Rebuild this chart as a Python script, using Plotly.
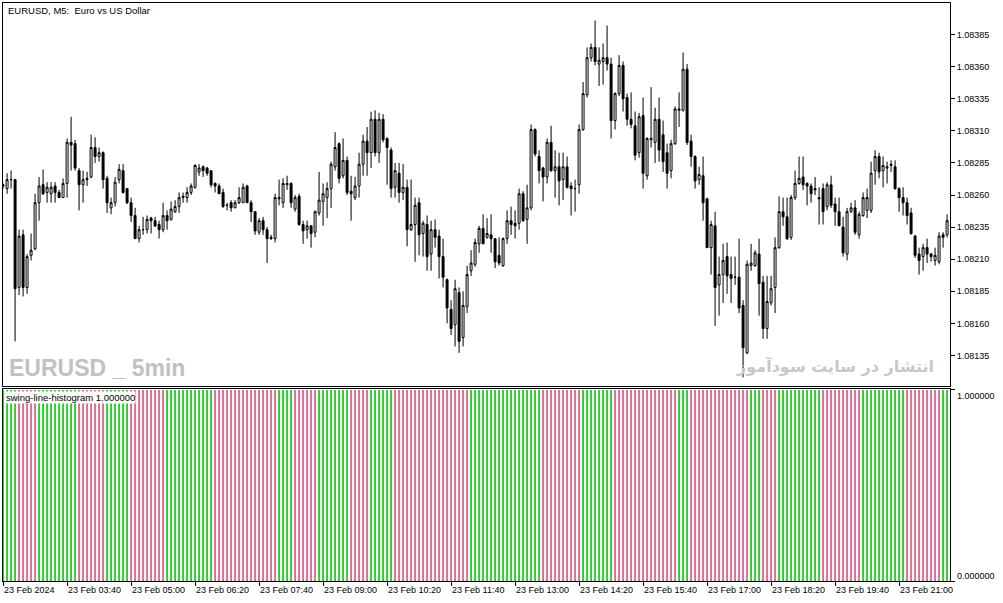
import plotly.graph_objects as go

# EURUSD M5, 23 Feb 2024, first bar 02:20. Prices are in points above 1.08000
opens = [
    267, 265, 272, 272, 188, 229, 188, 213, 218, 254,
    268, 262, 261, 267, 262, 258, 269, 301, 300, 279,
    268, 272, 274, 297, 290, 293, 273, 250, 254, 272,
    279, 265, 254, 244, 226, 233, 233, 242, 240, 237,
    233, 244, 241, 247, 251, 258, 258, 262, 266, 278,
    282, 281, 279, 269, 267, 262, 252, 254, 250, 254,
    254, 267, 254, 247, 231, 240, 233, 226, 226, 257,
    254, 268, 269, 249, 259, 237, 233, 236, 231, 246,
    255, 258, 265, 282, 300, 275, 287, 263, 258, 267,
    284, 302, 293, 319, 293, 319, 304, 295, 266, 277,
    262, 266, 233, 237, 254, 230, 237, 214, 233, 228,
    212, 194, 171, 159, 184, 149, 173, 201, 206, 222,
    234, 227, 229, 226, 213, 205, 226, 240, 238, 238,
    261, 241, 250, 311, 290, 281, 274, 301, 279, 282,
    272, 282, 267, 265, 268, 311, 338, 367, 375, 362,
    364, 367, 362, 318, 339, 361, 336, 319, 314, 293,
    322, 275, 303, 301, 319, 307, 293, 279, 300, 326,
    326, 358, 302, 290, 272, 275, 257, 219, 236, 190,
    198, 212, 198, 196, 196, 174, 137, 205, 205, 214,
    192, 156, 176, 188, 219, 247, 243, 227, 258, 269,
    274, 269, 267, 265, 258, 265, 251, 268, 253, 247,
    235, 214, 247, 250, 229, 244, 248, 248, 279, 290,
    279, 281, 283, 282, 265, 258, 254, 246, 228, 214,
    212, 219, 214, 209, 208, 229, 229,
]
highs = [
    269, 277, 279, 272, 233, 233, 214, 230, 261, 274,
    280, 270, 270, 270, 264, 273, 304, 321, 303, 281,
    279, 278, 307, 305, 297, 294, 275, 258, 274, 284,
    284, 265, 258, 250, 236, 243, 244, 243, 243, 240,
    254, 248, 255, 256, 262, 262, 266, 269, 284, 284,
    283, 282, 279, 270, 269, 265, 254, 256, 256, 266,
    269, 268, 256, 247, 242, 243, 235, 229, 261, 272,
    273, 275, 270, 260, 261, 240, 240, 236, 248, 278,
    269, 270, 286, 309, 301, 304, 290, 275, 274, 293,
    307, 313, 325, 326, 324, 323, 305, 297, 285, 285,
    284, 272, 272, 258, 258, 240, 244, 240, 241, 233,
    226, 195, 178, 194, 188, 185, 205, 217, 226, 236,
    245, 242, 245, 226, 227, 227, 248, 251, 248, 265,
    263, 268, 315, 312, 295, 282, 304, 314, 295, 293,
    293, 290, 270, 272, 315, 348, 375, 378, 396, 375,
    378, 392, 367, 340, 369, 364, 339, 340, 325, 324,
    336, 305, 344, 328, 336, 318, 300, 303, 329, 340,
    371, 362, 307, 291, 282, 290, 258, 240, 247, 212,
    222, 223, 212, 212, 226, 178, 209, 222, 217, 226,
    197, 197, 197, 227, 259, 258, 258, 260, 279, 290,
    290, 270, 269, 274, 266, 269, 270, 275, 258, 258,
    243, 250, 254, 256, 247, 262, 265, 286, 295, 293,
    290, 286, 287, 287, 266, 266, 258, 250, 229, 219,
    222, 226, 215, 219, 231, 231, 245,
]
lows = [
    265, 261, 265, 146, 182, 181, 183, 209, 217, 240,
    260, 254, 254, 254, 258, 258, 258, 279, 279, 248,
    254, 267, 273, 285, 286, 265, 246, 245, 251, 269,
    261, 253, 239, 226, 223, 229, 230, 230, 235, 226,
    231, 233, 240, 246, 246, 254, 254, 260, 265, 275,
    274, 275, 266, 262, 261, 250, 248, 247, 250, 253,
    254, 254, 239, 229, 229, 229, 207, 225, 223, 252,
    250, 264, 250, 247, 236, 222, 226, 219, 227, 244,
    236, 242, 250, 279, 269, 273, 260, 240, 256, 258,
    275, 275, 281, 290, 285, 301, 268, 258, 258, 254,
    256, 220, 232, 208, 213, 212, 201, 201, 219, 195,
    188, 160, 151, 142, 137, 142, 168, 197, 204, 215,
    222, 226, 215, 203, 205, 204, 222, 229, 226, 233,
    239, 222, 248, 290, 269, 255, 269, 278, 258, 252,
    256, 265, 244, 247, 261, 310, 336, 364, 361, 345,
    346, 357, 304, 311, 337, 325, 314, 312, 287, 289,
    265, 272, 297, 285, 286, 278, 265, 273, 299, 313,
    325, 299, 282, 265, 268, 240, 219, 198, 158, 166,
    176, 183, 176, 190, 168, 118, 136, 201, 204, 166,
    148, 148, 174, 168, 218, 236, 225, 225, 256, 268,
    264, 252, 254, 260, 237, 237, 248, 250, 236, 236,
    212, 209, 246, 229, 226, 243, 242, 246, 268, 273,
    266, 269, 278, 264, 247, 244, 237, 229, 211, 198,
    201, 207, 208, 205, 206, 219, 227,
]
closes = [
    268, 272, 272, 187, 228, 188, 212, 217, 254, 267,
    261, 266, 266, 262, 258, 269, 301, 299, 281, 268,
    272, 273, 297, 290, 293, 272, 254, 254, 270, 280,
    262, 254, 244, 226, 233, 233, 241, 240, 236, 233,
    244, 240, 249, 251, 258, 259, 262, 267, 283, 281,
    279, 277, 268, 267, 261, 251, 252, 250, 254, 258,
    266, 254, 247, 232, 240, 233, 226, 227, 258, 258,
    269, 269, 254, 258, 237, 232, 236, 230, 247, 256,
    261, 265, 284, 297, 273, 287, 262, 261, 267, 284,
    302, 293, 319, 293, 319, 303, 297, 265, 279, 262,
    266, 233, 237, 252, 229, 238, 212, 233, 227, 212,
    196, 172, 156, 187, 146, 174, 198, 207, 223, 234,
    222, 230, 226, 208, 207, 226, 240, 237, 236, 261,
    240, 250, 311, 292, 279, 274, 301, 279, 282, 271,
    282, 266, 265, 265, 311, 339, 367, 375, 364, 365,
    367, 362, 318, 339, 361, 335, 319, 315, 291, 321,
    277, 304, 304, 319, 295, 286, 277, 300, 327, 327,
    358, 301, 290, 271, 276, 254, 219, 237, 188, 198,
    209, 197, 195, 196, 172, 141, 206, 207, 215, 191,
    156, 177, 187, 219, 247, 243, 226, 258, 269, 273,
    268, 267, 261, 264, 257, 247, 268, 252, 247, 236,
    215, 247, 250, 231, 245, 258, 258, 277, 290, 278,
    283, 282, 284, 265, 258, 254, 244, 230, 213, 209,
    219, 214, 212, 213, 228, 227, 240,
]

# swing-line-histogram: run lengths, alternating up (green) / down (pink), first run is up
swing_runs = [4, 5, 10, 7, 6, 9, 12, 16, 4, 6, 8, 5, 6, 19, 18, 10, 8, 16, 3, 15, 3, 4, 11, 10, 11, 9, 2]

time_labels = ["23 Feb 2024", "23 Feb 03:40", "23 Feb 05:00", "23 Feb 06:20", "23 Feb 07:40",
               "23 Feb 09:00", "23 Feb 10:20", "23 Feb 11:40", "23 Feb 13:00", "23 Feb 14:20",
               "23 Feb 15:40", "23 Feb 17:00", "23 Feb 18:20", "23 Feb 19:40", "23 Feb 21:00"]
price_ticks = ["1.08135", "1.08160", "1.08185", "1.08210", "1.08235",
               "1.08260", "1.08285", "1.08310", "1.08335", "1.08360", "1.08385"]

BASE = 1.08
PT = 0.00001
o = [BASE + v * PT for v in opens]
h = [BASE + v * PT for v in highs]
l = [BASE + v * PT for v in lows]
c = [BASE + v * PT for v in closes]
x = list(range(len(opens)))

GREEN = "#32CD32"
PINK = "#DB7093"
colors = []
for k, n in enumerate(swing_runs):
    colors += [GREEN if k % 2 == 0 else PINK] * n

W, H = 1003, 603
ML, MR, MT, MB = 3, 53, 3, 22
PW, PH = W - ML - MR, H - MT - MB


def px_x(p):
    return (p - ML) / PW


def px_y(p):
    return (H - MB - p) / PH


FONT = "Liberation Sans, Arial, sans-serif"

fig = go.Figure()
fig.add_trace(go.Candlestick(
    x=x, open=o, high=h, low=l, close=c,
    increasing=dict(line=dict(color="black", width=1), fillcolor="white"),
    decreasing=dict(line=dict(color="black", width=1), fillcolor="black"),
    whiskerwidth=0, hoverinfo="skip", xaxis="x", yaxis="y",
))
fig.add_trace(go.Bar(
    x=x, y=[1] * len(x), width=0.5,
    marker=dict(color=colors, line=dict(width=0)),
    hoverinfo="skip", xaxis="x2", yaxis="y2",
))

xr = [-0.02, 236.73]
axis_common = dict(showline=True, linecolor="black", linewidth=1, mirror=True,
                   showgrid=False, zeroline=False)

fig.update_layout(
    width=W, height=H,
    margin=dict(l=ML, r=MR, t=MT, b=MB),
    paper_bgcolor="white", plot_bgcolor="white",
    showlegend=False,
    xaxis=dict(domain=[0, 1], range=xr, anchor="y", showticklabels=False, ticks="",
               rangeslider=dict(visible=False), **axis_common),
    xaxis2=dict(domain=[0, 1], range=xr, anchor="y2", ticks="outside", ticklen=4,
                tickcolor="black", tickvals=[i * 16 for i in range(len(time_labels))],
                ticktext=time_labels, ticklabelposition="outside right",
                tickfont=dict(family=FONT, size=9, color="black"), **axis_common),
    yaxis=dict(domain=[px_y(386), 1], range=[1.081112, 1.084096], side="right",
               anchor="x", ticks="outside", ticklen=4, tickcolor="black",
               tickvals=[float(t) for t in price_ticks], ticktext=price_ticks,
               tickfont=dict(family=FONT, size=9, color="black"), **axis_common),
    yaxis2=dict(domain=[0, px_y(389)], range=[0, 1.005], side="right", anchor="x2",
                ticks="outside", ticklen=4, tickcolor="black", tickvals=[0, 1],
                showticklabels=False, **axis_common),
)

ann = [
    dict(text="EURUSD, M5:\u00a0 Euro vs US Dollar", x=px_x(6), y=px_y(3),
         xanchor="left", yanchor="top", font=dict(family=FONT, size=9.5, color="black")),
    dict(text="swing-line-histogram 1.000000", x=px_x(5), y=px_y(391),
         xanchor="left", yanchor="top", bgcolor="white", borderpad=0,
         font=dict(family=FONT, size=9.5, color="black")),
    dict(text="1.000000", x=px_x(955), y=px_y(396), xanchor="left", yanchor="middle",
         font=dict(family=FONT, size=9, color="black")),
    dict(text="0.000000", x=px_x(955), y=px_y(576), xanchor="left", yanchor="middle",
         font=dict(family=FONT, size=9, color="black")),
    dict(text="<b>EURUSD _ 5min</b>", x=px_x(7), y=px_y(368), xanchor="left", yanchor="middle",
         font=dict(family="Liberation Sans", size=23, color="#c4c0c0")),
    dict(text="<b>انتشار در سایت سودآموز</b>", x=px_x(936), y=px_y(366),
         xanchor="right", yanchor="middle",
         font=dict(family="DejaVu Sans, Noto Sans", size=16, color="#c8c8c8")),
]
for a in ann:
    fig.add_annotation(xref="paper", yref="paper", showarrow=False, **a)

# the page body has an 8px default margin; drop it so the chart sits at the window corner
fig.write_html("out.html", config={"displayModeBar": False},
               post_script="document.body.style.margin='0px';")
